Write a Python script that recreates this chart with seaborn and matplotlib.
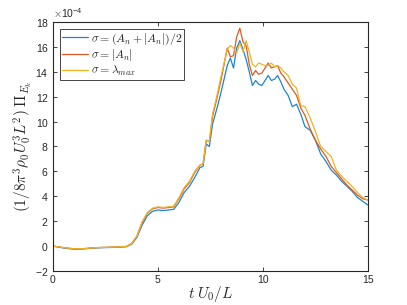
import numpy as np
import pandas as pd
import seaborn as sns
import matplotlib
matplotlib.use("Agg")
import matplotlib.pyplot as plt
from matplotlib.ticker import ScalarFormatter

t = [0, 0.5, 1.0, 1.5, 2.0, 2.5, 3.0, 3.5, 3.75, 4.0, 4.25, 4.5, 4.75, 5.0, 5.25, 5.5, 5.75,
     6.0, 6.25, 6.5, 6.75, 7.0, 7.15, 7.3, 7.45, 7.6, 7.8, 8.0, 8.15, 8.3, 8.45, 8.6, 8.75,
     8.9, 9.05, 9.2, 9.35, 9.5, 9.65, 9.8, 9.95, 10.1, 10.25, 10.4, 10.55, 10.7, 10.85, 11.0,
     11.2, 11.4, 11.6, 11.8, 12.0, 12.25, 12.5, 12.75, 13.0, 13.25, 13.5, 13.75, 14.0, 14.25,
     14.5, 14.75, 15.0]

# values in units of 1e-4
blue = [0.0, -0.15, -0.25, -0.22, -0.15, -0.12, -0.1, -0.05, 0.15, 0.7, 1.7, 2.45, 2.8, 2.9, 2.85, 2.9, 2.95,
        3.5, 4.3, 4.8, 5.5, 6.3, 6.4, 8.2, 8.0, 9.8, 11.0, 12.3, 13.4, 14.5, 15.1, 14.3, 15.9,
        16.5, 15.8, 15.0, 14.0, 12.9, 13.3, 13.0, 12.9, 13.3, 13.7, 13.3, 13.4, 13.7, 13.2, 12.6,
        12.1, 11.2, 11.4, 10.6, 9.6, 9.3, 8.5, 7.4, 6.8, 6.1, 5.7, 5.2, 4.8, 4.4,
        3.9, 3.6, 3.3]
red = [0.0, -0.12, -0.22, -0.2, -0.13, -0.1, -0.08, -0.03, 0.2, 0.8, 1.9, 2.65, 3.0, 3.1, 3.05, 3.1, 3.15,
       3.8, 4.6, 5.1, 5.9, 6.5, 6.6, 8.5, 8.4, 10.4, 11.8, 13.3, 14.6, 15.9, 15.2, 15.3, 16.8,
       17.5, 16.4, 16.1, 14.6, 13.7, 14.1, 13.8, 13.9, 14.3, 14.7, 14.3, 14.4, 14.5, 13.9, 13.6,
       13.1, 12.6, 12.1, 11.1, 10.5, 9.4, 8.5, 7.8, 7.2, 6.4, 5.9, 5.4, 4.9, 4.5,
       4.1, 3.8, 3.7]
yellow = [0.0, -0.12, -0.22, -0.2, -0.13, -0.1, -0.08, -0.03, 0.2, 0.8, 1.95, 2.7, 3.05, 3.15, 3.1, 3.15, 3.2,
          3.9, 4.7, 5.2, 6.0, 6.5, 6.6, 8.5, 8.4, 10.6, 12.0, 13.6, 14.7, 15.8, 16.1, 15.9, 15.5,
          16.3, 15.6, 16.5, 15.6, 14.6, 14.4, 14.7, 14.6, 14.5, 14.5, 14.7, 14.4, 14.5, 14.3, 14.0,
          13.7, 13.0, 12.7, 11.3, 11.2, 10.3, 9.2, 8.0, 7.6, 7.2, 6.1, 5.6, 5.2, 4.8,
          4.3, 3.9, 3.7]

labels = [r'$\sigma=(A_n+|A_n|)/2$', r'$\sigma=|A_n|$', r'$\sigma=\lambda_{max}$']
colors = ['#1f84cf', '#DD5A22', '#EFB425']
scale = 1e-4

sns.set_theme(style="white")
plt.rcParams['font.family'] = ['Liberation Sans', 'DejaVu Sans']
plt.rcParams['mathtext.fontset'] = 'cm'
plt.rcParams['axes.unicode_minus'] = False

df = pd.concat([
    pd.DataFrame({'t': t, 'v': np.array(s) * scale, 'series': lab})
    for s, lab in zip([blue, red, yellow], labels)
])

fig = plt.figure(figsize=(4.07, 3.05), dpi=100)
ax = fig.add_axes([0.13, 0.1115, 0.774, 0.8165])
sns.lineplot(data=df, x='t', y='v', hue='series', hue_order=labels,
             palette=colors, linewidth=0.9, ax=ax, sort=False)

ax.set_xlim(0, 15)
ax.set_ylim(-2e-4, 18e-4)
ax.set_xticks([0, 5, 10, 15])
ax.set_yticks(np.arange(-2, 19, 2) * scale)
fmt = ScalarFormatter(useMathText=True)
fmt.set_powerlimits((-4, -4))
ax.yaxis.set_major_formatter(fmt)
ax.yaxis.get_offset_text().set_fontsize(7.5)
ax.yaxis.get_offset_text().set_color('#262626')

for sp in ax.spines.values():
    sp.set_color('#262626')
    sp.set_linewidth(0.8)
ax.tick_params(direction='in', length=3, width=0.6, colors='#262626', labelsize=7.5,
               top=True, right=True, bottom=True, left=True, pad=3)

ax.set_xlabel(r'$t\;U_0/L$', fontsize=11, color='#262626', labelpad=-1)
ax.set_ylabel(r'$(1/8\pi^3\rho_0U_0^3L^2)\;\Pi_{E_k}$', fontsize=11, color='#262626', labelpad=1)

leg = ax.legend(loc='upper left', bbox_to_anchor=(0.022, 0.972), fontsize=8.5,
                frameon=True, fancybox=False, edgecolor='#262626', framealpha=1,
                handlelength=2.2, handletextpad=0.2, borderpad=0.2, labelspacing=0.05,
                borderaxespad=0.0)
leg.get_frame().set_linewidth(0.6)

fig.savefig('out.png', dpi=100)
